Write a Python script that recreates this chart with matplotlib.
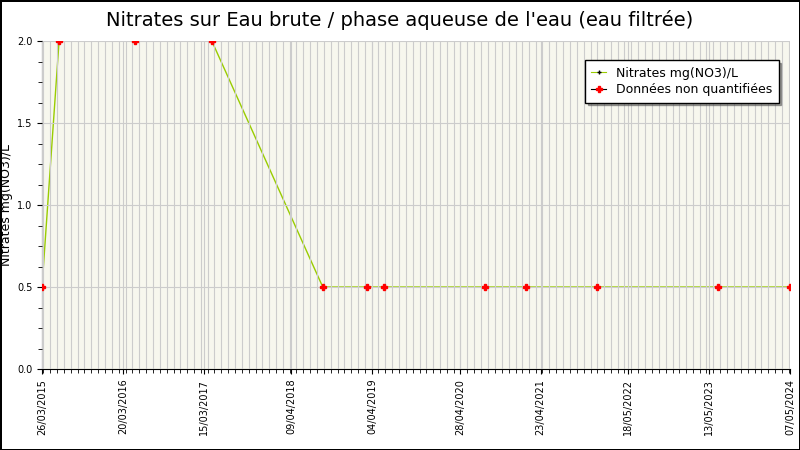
import pandas as pd
import matplotlib.pyplot as plt
import matplotlib.dates as mdates
from matplotlib.ticker import MultipleLocator

# Données
dates = pd.to_datetime(['2015-03-26', '2015-06-10', '2016-05-13', '2017-04-20', '2018-08-27',
                        '2019-03-11', '2019-05-25', '2020-08-17', '2021-02-16', '2022-01-01',
                        '2023-06-20', '2024-05-07'])
valeurs = [0.5, 2.0, 2.0, 2.0, 0.5, 0.5, 0.5, 0.5, 0.5, 0.5, 0.5, 0.5]
tick_labels = ['26/03/2015', '20/03/2016', '15/03/2017', '09/04/2018', '04/04/2019',
               '28/04/2020', '23/04/2021', '18/05/2022', '13/05/2023', '07/05/2024']
tick_dates = pd.to_datetime(tick_labels, format='%d/%m/%Y')

fig = plt.figure(figsize=(8, 4.5), dpi=100)
fig.patch.set_edgecolor('black')
fig.patch.set_linewidth(2)
ax = fig.add_axes([42/800, 81/450, 748/800, 328/450])
ax.set_facecolor('#f7f7ee')

ax.plot(dates, valeurs, color='#99cc00', lw=1, zorder=1)
ax.plot(dates, valeurs, ls='none', marker='P', ms=4, color='red', zorder=3)

ax.set_xlim(dates[0], dates[-1])
ax.set_ylim(0, 2.0)
ax.set_xticks(tick_dates)
ax.set_xticklabels(tick_labels, rotation=90, fontsize=7)
ax.xaxis.set_minor_locator(mdates.MonthLocator())
ax.yaxis.set_major_locator(MultipleLocator(0.5))
ax.yaxis.set_minor_locator(MultipleLocator(0.125))
ax.yaxis.set_major_formatter(plt.FormatStrFormatter('%.1f'))
ax.tick_params(axis='y', labelsize=7)
ax.tick_params(which='minor', length=3)
ax.grid(True, which='both', axis='x', color='#cccccc', lw=0.8, zorder=2)
ax.grid(True, which='major', axis='y', color='#cccccc', lw=0.8, zorder=2)
ax.set_axisbelow(False)
for s in ['top', 'right']:
    ax.spines[s].set_visible(False)

ax.set_ylabel('Nitrates mg(NO3)/L', fontsize=9, labelpad=3)
fig.text(0.5, 0.955, "Nitrates sur Eau brute / phase aqueuse de l'eau (eau filtrée)",
         ha='center', va='center', fontsize=14)

h1, = ax.plot([], [], ls='-', marker='+', color='#99cc00', mfc='black', mec='black', ms=3, lw=0.8)
h2, = ax.plot([], [], ls='-', marker='P', color='black', mfc='red', mec='red', ms=4, lw=0.8)
leg = ax.legend([h1, h2], ['Nitrates mg(NO3)/L', 'Données non quantifiées'],
                loc='upper right', bbox_to_anchor=(0.993, 0.96), fontsize=9,
                fancybox=False, shadow=True, edgecolor='black', framealpha=1,
                handlelength=1.2, borderpad=0.5, labelspacing=0.3)
leg.get_frame().set_linewidth(1)

fig.savefig('out.png', dpi=100)
